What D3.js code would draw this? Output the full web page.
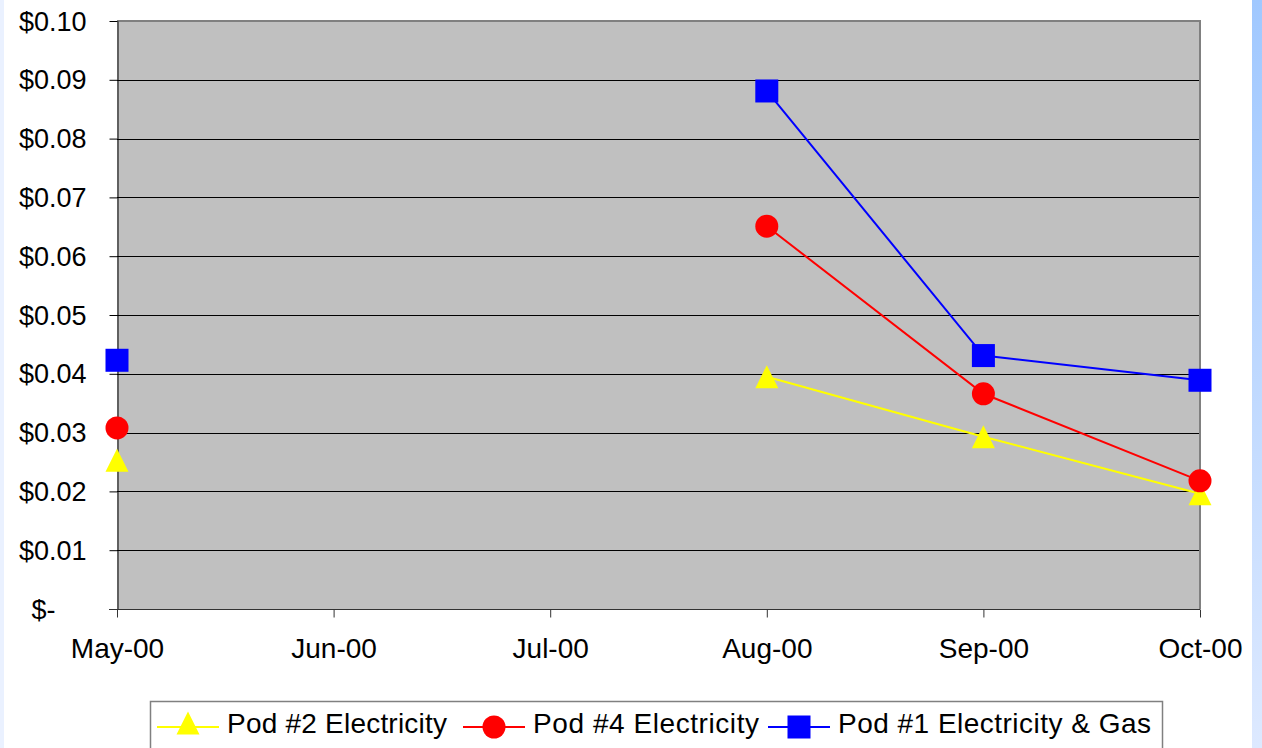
<!DOCTYPE html>
<html>
<head>
<meta charset="utf-8">
<script src="https://cdn.jsdelivr.net/npm/d3@7"></script>
<style>
  html, body { margin: 0; padding: 0; background: #fff; }
  svg { display: block; font-family: "Liberation Sans", Arial, sans-serif; }
</style>
</head>
<body>
<svg id="chart" width="1262" height="748"></svg>
<script>
const months = ["May-00", "Jun-00", "Jul-00", "Aug-00", "Sep-00", "Oct-00"];
const pod2Electricity = [0.0253, null, null, 0.0395, 0.0293, 0.0196];
const pod4Electricity = [0.0308, null, null, 0.0651, 0.0366, 0.0218];
const pod1ElecGas    = [0.0423, null, null, 0.0881, 0.0431, 0.0389];
const yTicks = [0, 0.01, 0.02, 0.03, 0.04, 0.05, 0.06, 0.07, 0.08, 0.09, 0.10];
const seriesNames = ["Pod #2 Electricity", "Pod #4 Electricity", "Pod #1 Electricity & Gas"];

(function () {
const svg = d3.select("#chart");
const W = 1262, H = 748;
const pL = 117, pR = 1200, pT = 21, pB = 609;

// page decoration
const defs = svg.append("defs");
const grad = defs.append("linearGradient").attr("id", "strip").attr("x1", 0).attr("y1", 0).attr("x2", 0).attr("y2", 1);
grad.append("stop").attr("offset", "0%").attr("stop-color", "#a0c8ff");
grad.append("stop").attr("offset", "100%").attr("stop-color", "#dde9ff");
svg.append("rect").attr("x", 0).attr("y", 0).attr("width", W).attr("height", H).attr("fill", "#fff");
svg.append("rect").attr("x", 0).attr("y", 0).attr("width", 4).attr("height", H).attr("fill", "#eaf1ff");
svg.append("rect").attr("x", 1252).attr("y", 0).attr("width", 10).attr("height", H).attr("fill", "url(#strip)");

const x = d3.scalePoint().domain(months).range([pL, pR]).padding(0);
const y = d3.scaleLinear().domain([0, 0.1]).range([pB, pT]);

// plot area
svg.append("rect").attr("x", pL).attr("y", pT).attr("width", pR - pL).attr("height", pB - pT).attr("fill", "#c0c0c0");

// gridlines
svg.append("g").selectAll("line").data(yTicks.filter(d => d > 0 && d < 0.1)).join("line")
  .attr("x1", pL).attr("x2", pR)
  .attr("y1", d => Math.round(y(d)) + 0.5).attr("y2", d => Math.round(y(d)) + 0.5)
  .attr("stroke", "#000").attr("stroke-width", 1);

// plot border top & right
svg.append("path")
  .attr("d", `M${pL},${pT} H${pR} V${pB}`)
  .attr("fill", "none").attr("stroke", "#808080").attr("stroke-width", 2);

// y axis
const yAxis = d3.axisLeft(y).tickValues(yTicks).tickSize(8).tickSizeOuter(0)
  .tickFormat(d => d === 0 ? "$-" : "$" + d3.format(".2f")(d));
const gy = svg.append("g").attr("transform", `translate(${pL + 0.5},0)`).call(yAxis);
gy.select(".domain").attr("stroke", "#000");
gy.selectAll(".tick line").attr("stroke", "#000");
gy.selectAll(".tick text").attr("font-size", 27).attr("fill", "#000")
  .attr("font-family", '"Liberation Sans", Arial, sans-serif')
  .attr("x", d => d === 0 ? -62 : -31).attr("dy", "0.34em");

// x axis
const xAxis = d3.axisBottom(x).tickSize(8).tickSizeOuter(0);
const gx = svg.append("g").attr("transform", `translate(0,${pB + 0.5})`).call(xAxis);
gx.select(".domain").attr("stroke", "#333").attr("d", `M${pL - 8},0H${pR}`);
gx.selectAll(".tick line").attr("stroke", "#333");
gx.selectAll(".tick text").attr("font-size", 28).attr("fill", "#000")
  .attr("font-family", '"Liberation Sans", Arial, sans-serif')
  .attr("y", 29).attr("dy", "0.71em");

// series
const series = [
  { name: seriesNames[0], values: pod2Electricity, color: "#ffff00", marker: "triangle" },
  { name: seriesNames[1], values: pod4Electricity, color: "#ff0000", marker: "circle" },
  { name: seriesNames[2], values: pod1ElecGas, color: "#0000ff", marker: "square" }
];

const line = d3.line().defined(d => d.v != null).x(d => x(d.m)).y(d => y(d.v));

function drawMarker(g, type, color, cx, cy) {
  if (type === "square") {
    g.append("rect").attr("x", cx - 11.5).attr("y", cy - 11.5).attr("width", 23).attr("height", 23).attr("fill", color);
  } else if (type === "circle") {
    g.append("circle").attr("cx", cx).attr("cy", cy).attr("r", 11.5).attr("fill", color);
  } else {
    g.append("path").attr("d", `M${cx},${cy - 11.5}L${cx + 11.5},${cy + 11.5}L${cx - 11.5},${cy + 11.5}Z`).attr("fill", color);
  }
}

series.forEach(s => {
  const pts = months.map((m, i) => ({ m, v: s.values[i] }));
  const g = svg.append("g");
  g.append("path").attr("d", line(pts)).attr("fill", "none").attr("stroke", s.color).attr("stroke-width", 2);
  pts.filter(p => p.v != null).forEach(p => drawMarker(g, s.marker, s.color, x(p.m), y(p.v)));
});

// legend
const lg = svg.append("g");
lg.append("rect").attr("x", 150.5).attr("y", 701.5).attr("width", 1012).attr("height", 60)
  .attr("fill", "#fff").attr("stroke", "#808080").attr("stroke-width", 1.5);
const legendX = [157, 463, 768];
const legendTextW = [220, 226, 313];
series.forEach((s, i) => {
  const lx = legendX[i];
  const ly = 727;
  lg.append("line").attr("x1", lx).attr("x2", lx + 62).attr("y1", ly).attr("y2", ly).attr("stroke", s.color).attr("stroke-width", 2);
  drawMarker(lg, s.marker, s.color, lx + 31, ly - (s.marker === "triangle" ? 4 : 0));
  lg.append("text").attr("x", lx + 70).attr("y", 733).attr("font-size", 28).attr("fill", "#000")
    .attr("textLength", legendTextW[i]).attr("lengthAdjust", "spacing").text(s.name);
});
})();
</script>
</body>
</html>
